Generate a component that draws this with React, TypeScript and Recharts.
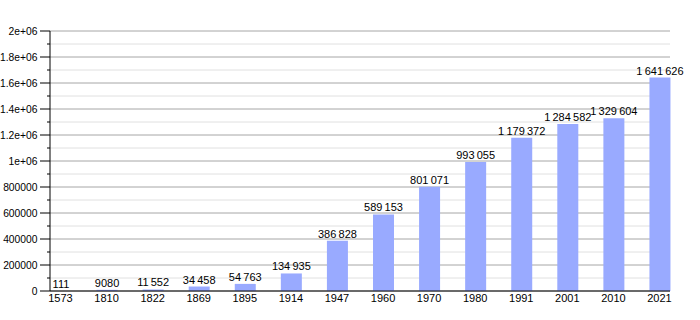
import { BarChart, Bar, XAxis, YAxis, CartesianGrid, LabelList } from "recharts"

const years = ["1573", "1810", "1822", "1869", "1895", "1914", "1947", "1960", "1970", "1980", "1991", "2001", "2010", "2021"]
const population = [111, 9080, 11552, 34458, 54763, 134935, 386828, 589153, 801071, 993055, 1179372, 1284582, 1329604, 1641626]
const yTicks = [0, 100000, 200000, 300000, 400000, 500000, 600000, 700000, 800000, 900000, 1000000, 1100000, 1200000, 1300000, 1400000, 1500000, 1600000, 1700000, 1800000, 1900000, 2000000]

const data = years.map((year, i) => ({ idx: i, year, pop: population[i] }))

const FONT = "'Liberation Sans', Arial, sans-serif"

const formatY = (v: number) => (v >= 1e6 ? `${v / 1e6}e+06` : String(v))

// french style, no separator under 10 000; thin space so the label doesn't wrap
const formatPop = (v: number) => {
    if (v < 10000) return String(v)
    return String(v).replace(/\B(?=(\d{3})+(?!\d))/g, "\u2009")
}

const isMajor = (v: number) => v % 200000 === 0
const majorTicks = yTicks.filter(isMajor)
const minorTicks = yTicks.filter((v) => !isMajor(v))

const YTick = ({ x, y, payload }: any) => {
    const v = payload.value
    const axisX = x + 13
    if (!isMajor(v)) {
        return <line x1={axisX - 3} x2={axisX} y1={y} y2={y} stroke="#000" />
    }
    return (
        <g>
            <line x1={axisX - 10} x2={axisX} y1={y} y2={y} stroke="#000" />
            <text x={x + 0.5} y={y} dy={4} textAnchor="end" fontSize={10.3} fontFamily={FONT} fill="#000">
                {formatY(v)}
            </text>
        </g>
    )
}

export default function App() {
    return (
        <div style={{ position: "absolute", left: 0, top: 0, background: "#fff" }}>
            <BarChart width={700} height={320} data={data} margin={{ top: 31, right: 30, bottom: 0, left: 0 }}>
                <CartesianGrid vertical={false} stroke="#e0e0e0" horizontalValues={minorTicks} />
                <CartesianGrid vertical={false} stroke="#a6a6a6" horizontalValues={majorTicks} />
                <XAxis
                    dataKey="idx"
                    type="number"
                    height={29}
                    domain={[-0.228, 13.228]}
                    ticks={data.map((d) => d.idx)}
                    tickFormatter={(i: number) => years[i]}
                    allowDecimals={false}
                    tickLine={false}
                    tickSize={0}
                    tickMargin={3}
                    axisLine={{ stroke: "#000" }}
                    tick={{ fontSize: 11, fontFamily: FONT, fill: "#000" }}
                    interval={0}
                />
                <YAxis
                    width={50}
                    domain={[0, 2000000]}
                    ticks={yTicks}
                    interval={0}
                    tickSize={10}
                    tickMargin={3}
                    tickLine={false}
                    axisLine={{ stroke: "#000" }}
                    tick={<YTick />}
                />
                <Bar dataKey="pop" fill="#99aaff" barSize={21} isAnimationActive={false}>
                    <LabelList
                        dataKey="pop"
                        position="top"
                        offset={3}
                        formatter={(v: any) => formatPop(Number(v))}
                        style={{ fontSize: 11, fontFamily: FONT, fill: "#000" }}
                    />
                </Bar>
            </BarChart>
        </div>
    )
}
